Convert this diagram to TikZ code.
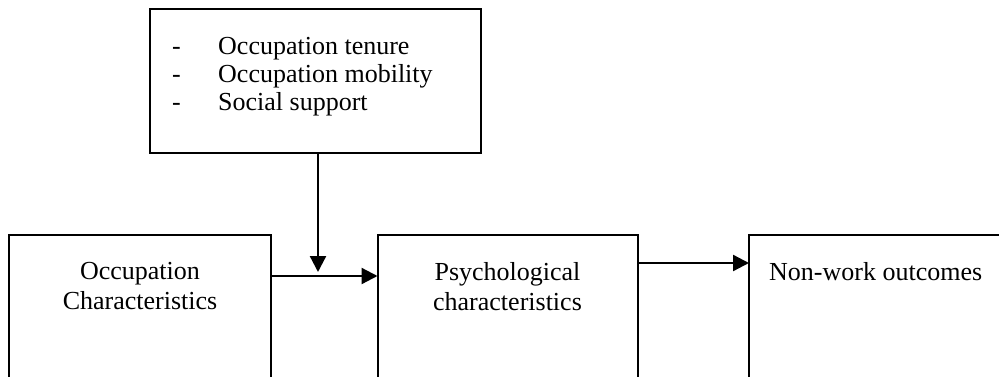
\documentclass[tikz,border=0pt]{standalone}
\usepackage{fontspec}
\setmainfont{Liberation Serif}
\usetikzlibrary{arrows.meta}
\begin{document}
\begin{tikzpicture}[x=1pt,y=-1pt,
  box/.style={draw, line width=2pt, inner sep=0pt, outer sep=0pt, anchor=north west},
  lbl/.style={inner sep=0pt, font=\fontsize{26}{30}\selectfont},
  link/.style={line width=2.3pt, -{Triangle[length=16pt,width=16pt]}}]
\useasboundingbox (0,0) rectangle (999,377);
\clip (0,0) rectangle (999,377);
\fill[white] (0,0) rectangle (999,377);

% boxes (the lower three run past the bottom edge)
\node[box, minimum width=331pt, minimum height=144pt] (mods) at (149.5,9) {};
\node[box, minimum width=262pt, minimum height=220pt] (occ) at (9,235) {};
\node[box, minimum width=260pt, minimum height=220pt] (psy) at (377.5,235) {};
\node[box, minimum width=300pt, minimum height=220pt] (out) at (749,235) {};

% texts
\node[lbl, font=\fontsize{26}{28}\selectfont, align=left, anchor=north west] (modtxt) at (172,37.5)
  {\makebox[46pt][l]{-}Occupation tenure\\
   \makebox[46pt][l]{-}Occupation mobility\\
   \makebox[46pt][l]{-}Social support};
\node[lbl, align=center, anchor=north] (occtxt) at (140,262.5) {Occupation\\Characteristics};
\node[lbl, align=center, anchor=north] (psytxt) at (507.5,262.5) {Psychological\\characteristics};
\node[lbl, anchor=base west] (outtxt) at (769,280) {Non-work outcomes};

% connectors
\coordinate (drop) at (318,272);
\coordinate (lane) at (0,276);
\coordinate (lane2) at (0,263);
\draw[link] (mods.south -| drop) -- (drop);
\draw[link] (occ.east |- lane) -- (psy.west |- lane);
\draw[link] (psy.east |- lane2) -- (out.west |- lane2);
\end{tikzpicture}
\end{document}
